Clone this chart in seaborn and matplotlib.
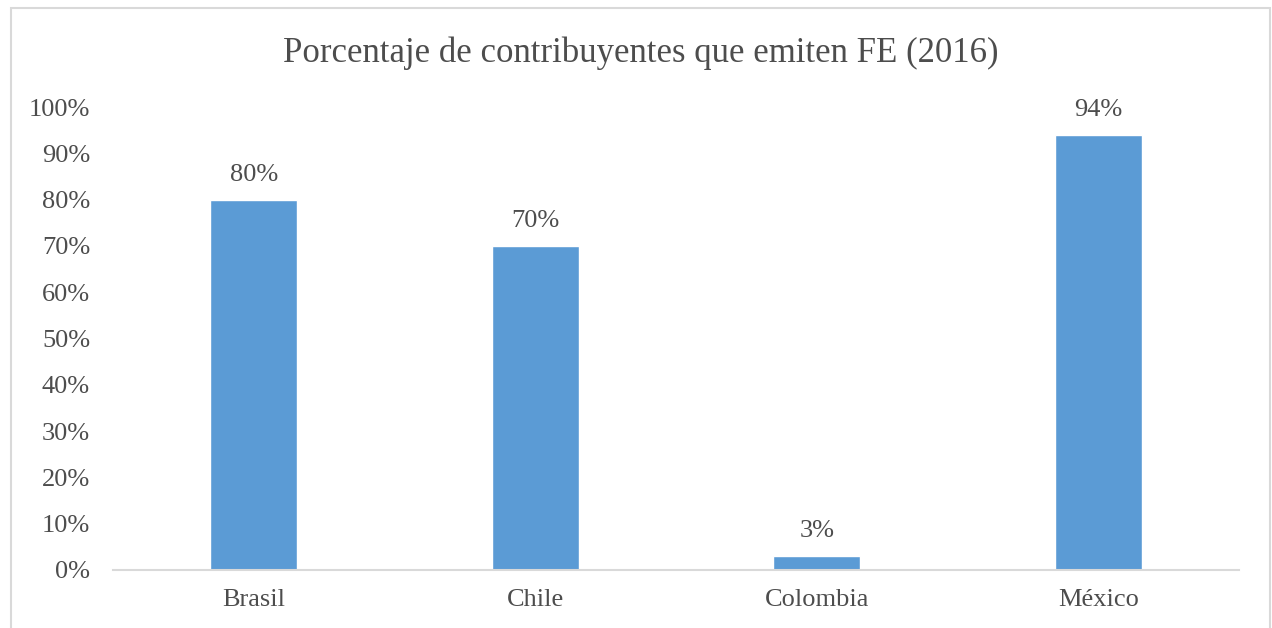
import matplotlib
matplotlib.use("Agg")
import matplotlib.pyplot as plt
import seaborn as sns
import pandas as pd
from matplotlib.patches import Rectangle
from matplotlib.ticker import FuncFormatter

countries = ["Brasil", "Chile", "Colombia", "México"]
values = [0.80, 0.70, 0.03, 0.94]
title = "Porcentaje de contribuyentes que emiten FE (2016)"

sns.set_theme(style="white")
plt.rcParams['font.family'] = ['Liberation Serif', 'DejaVu Serif']

df = pd.DataFrame({"pais": countries, "valor": values})

W, H = 1272, 628
fig = plt.figure(figsize=(W / 100, H / 100), dpi=100)
ax = fig.add_axes([113 / W, (H - 570) / H, (1239 - 113) / W, (570 - 107) / H])

sns.barplot(data=df, x="pais", y="valor", color="#5B9BD5", saturation=1,
            width=0.31, ax=ax)

ax.set_ylim(0, 1.0)
ax.set_xlim(-0.5, len(countries) - 0.5)
ax.set_yticks([i / 10 for i in range(11)])
ax.yaxis.set_major_formatter(FuncFormatter(lambda v, p: f"{v*100:.0f}%"))
ax.set_xlabel("")
ax.set_ylabel("")

text_color = "#4d4d4d"
ax.tick_params(axis="y", length=0, pad=16.5, labelsize=19, labelcolor=text_color)
ax.tick_params(axis="x", length=0, pad=14, labelsize=19, labelcolor=text_color)

for s in ["top", "right", "left"]:
    ax.spines[s].set_visible(False)
ax.spines["bottom"].set_color("#D9D9D9")
ax.spines["bottom"].set_linewidth(1.5)

for i, v in enumerate(values):
    ax.annotate(f"{v*100:.0f}%", xy=(i, v), xytext=(0, 10), textcoords="offset points",
                ha="center", va="bottom", fontsize=19, color=text_color)

fig.text(641 / W, 1 - 53 / H, title, ha="center", va="center", fontsize=25, color=text_color)

fig.patches.append(Rectangle((10.5 / W, -0.05), (1269.5 - 10.5) / W, 1.05 - 7.5 / H,
                             transform=fig.transFigure, fill=False,
                             edgecolor="#D9D9D9", linewidth=1.5))

fig.savefig("out.png", dpi=100)
